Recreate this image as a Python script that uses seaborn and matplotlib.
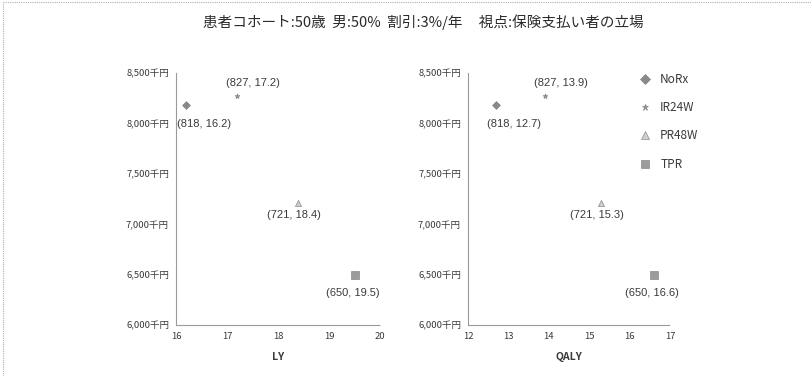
import matplotlib
matplotlib.use("Agg")
import matplotlib.pyplot as plt
import seaborn as sns
import pandas as pd
from matplotlib.lines import Line2D
from matplotlib.ticker import FuncFormatter

# Treatment strategies and their outcomes
strategies = ["NoRx", "IR24W", "PR48W", "TPR"]
cost_man_yen = [818, 827, 721, 650]        # cost, 万円
life_years = [16.2, 17.2, 18.4, 19.5]      # LY
qalys = [12.7, 13.9, 15.3, 16.6]           # QALY

title_text = "患者コホート:50歳  男:50%  割引:3%/年     視点:保険支払い者の立場"
y_ticks = [6000, 6500, 7000, 7500, 8000, 8500]
ly_ticks = [16, 17, 18, 19, 20]
qaly_ticks = [12, 13, 14, 15, 16, 17]

df = pd.DataFrame({
    "strategy": strategies,
    "cost": [c * 10 for c in cost_man_yen],   # 千円
    "LY": life_years,
    "QALY": qalys,
})

sns.set_theme(style="white")
plt.rcParams["font.family"] = ["Noto Sans CJK JP", "DejaVu Sans"]

markers = {"NoRx": "D", "IR24W": "*", "PR48W": "^", "TPR": "s"}
palette = {"NoRx": "#8a8a8a", "IR24W": "#9a9a9a", "PR48W": "#cfcfcf", "TPR": "#9c9c9c"}
sizes = {"NoRx": 16, "IR24W": 14, "PR48W": 20, "TPR": 26}
# label offsets in pixels (dx, dy)
offsets = {"NoRx": (18, -19), "IR24W": (16, 13), "PR48W": (-4, -12), "TPR": (-2, -18)}

W, H = 811, 376
fig = plt.figure(figsize=(W / 100, H / 100), dpi=100)
fig.patch.set_facecolor("white")

ax1 = fig.add_axes([176 / W, 1 - 325 / H, (380 - 176) / W, (325 - 73) / H])
ax2 = fig.add_axes([468 / W, 1 - 325 / H, (670 - 468) / W, (325 - 73) / H])

text_color = "#3a3a3a"

def yen_fmt(v, _):
    return f"{int(v):,}千円"

for ax, xcol, xticks in [(ax1, "LY", ly_ticks), (ax2, "QALY", qaly_ticks)]:
    for s in strategies:
        sub = df[df["strategy"] == s]
        sns.scatterplot(data=sub, x=xcol, y="cost", ax=ax, marker=markers[s],
                        color=palette[s], s=sizes[s], edgecolor="#777777",
                        linewidth=0.4, legend=False, zorder=3)
    for _, row in df.iterrows():
        dx, dy = offsets[row["strategy"]]
        ax.annotate(f"({row['cost'] // 10}, {row[xcol]})", (row[xcol], row["cost"]),
                    xytext=(dx * 0.72, dy * 0.72), textcoords="offset points",
                    ha="center", va="center", fontsize=8, color=text_color,
                    family=["Liberation Sans", "DejaVu Sans"])
    ax.set_xlim(xticks[0], xticks[-1])
    ax.set_ylim(6000, 8500)
    ax.set_xticks(xticks)
    ax.set_yticks(y_ticks)
    ax.yaxis.set_major_formatter(FuncFormatter(yen_fmt))
    ax.tick_params(axis="both", length=0, labelsize=6.8, colors=text_color, pad=5)
    ax.set_xlabel(xcol, fontsize=7.5, fontweight="bold", color=text_color, labelpad=8)
    ax.set_ylabel("")
    for side in ["top", "right"]:
        ax.spines[side].set_visible(False)
    for side in ["left", "bottom"]:
        ax.spines[side].set_color("#9a9a9a")
        ax.spines[side].set_linewidth(0.8)
        ax.spines[side].set_linestyle((0, (1, 1)))
    ax.set_facecolor("white")

fig.text(423 / W, 1 - 22 / H, title_text, ha="center", va="center",
         fontsize=10.5, color="#2a2a2a")

handles = [Line2D([0], [0], marker=markers[s], linestyle="none",
                  markerfacecolor=palette[s], markeredgecolor="#777777",
                  markeredgewidth=0.4, markersize=(sizes[s] ** 0.5) * 1.2)
           for s in strategies]
fig.legend(handles, strategies, loc="upper left",
           bbox_to_anchor=(633 / W, 1 - 68 / H), frameon=False,
           fontsize=8.5, labelcolor=text_color, labelspacing=1.3,
           handletextpad=0.7, handlelength=1.2, borderaxespad=0)

# outer chart frame (top and left edges)
fig.add_artist(Line2D([3 / W, 1], [1 - 2 / H, 1 - 2 / H], transform=fig.transFigure,
                      color="#b0b0b0", linewidth=0.8, linestyle=(0, (1, 1))))
fig.add_artist(Line2D([3 / W, 3 / W], [0, 1 - 2 / H], transform=fig.transFigure,
                      color="#b0b0b0", linewidth=0.8, linestyle=(0, (1, 1))))

fig.savefig("out.png", dpi=100, facecolor="white")
